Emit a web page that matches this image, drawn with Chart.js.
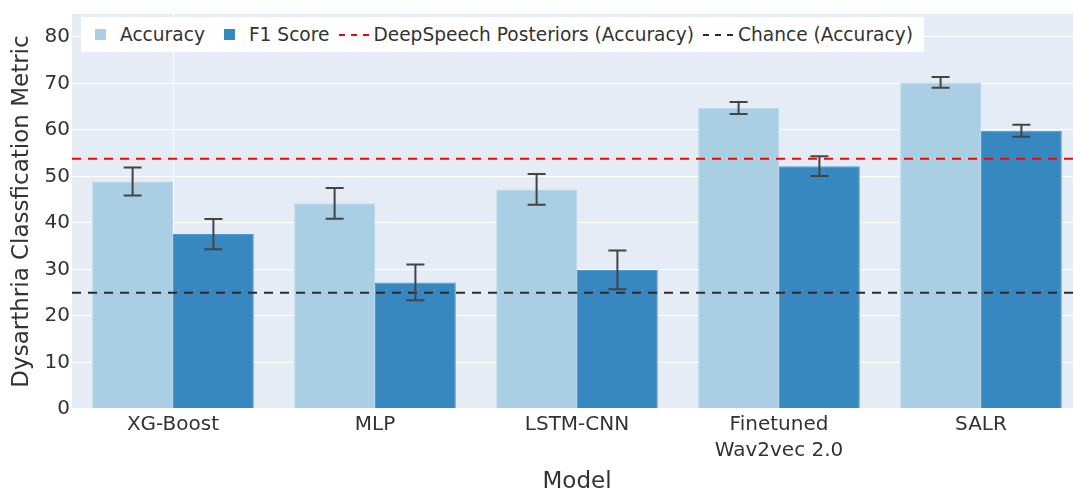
<!DOCTYPE html>
<html>
<head>
<meta charset="utf-8">
<script src="https://cdn.jsdelivr.net/npm/chart.js@4.4.1/dist/chart.umd.min.js"></script>
<style>
  html, body { margin: 0; padding: 0; background: #fff; overflow: hidden; }
  #wrap { position: relative; width: 1084px; height: 496px; }
  #legend {
    position: absolute; left: 81px; top: 17px; height: 35px;
    display: inline-flex; align-items: center; padding-right: 6px;
    background: #fff; font: 18.6px "DejaVu Sans"; color: #333; white-space: nowrap;
  }
  .item { display: flex; align-items: center; margin-right: 5px; }
  .sym { width: 39px; height: 20px; display: flex; align-items: center; justify-content: center; }
  .box { width: 11px; height: 11px; }
  .dash { width: 30px; height: 2px; }
</style>
</head>
<body>
<div id="wrap">
  <canvas id="chart"></canvas>
  <div id="legend"></div>
</div>
<script>
// data
const models = ['XG-Boost', 'MLP', 'LSTM-CNN', ['Finetuned', 'Wav2vec 2.0'], 'SALR'];
const accuracy = [48.9, 44.2, 47.2, 64.7, 70.2];
const accuracyErr = [3.0, 3.3, 3.3, 1.3, 1.15];
const f1Score = [37.6, 27.2, 29.9, 52.2, 59.8];
const f1Err = [3.25, 3.85, 4.15, 2.1, 1.3];
const refLabels = ['DeepSpeech Posteriors (Accuracy)', 'Chance (Accuracy)'];
const refValues = [53.8, 25.0];
const yTicks = [0, 10, 20, 30, 40, 50, 60, 70, 80];

const font = 'DejaVu Sans';
const textColor = '#333';
const accColor = 'rgb(170,206,228)';
const f1Color = 'rgb(55,135,192)';
const refColors = ['rgb(255,0,0)', '#2b2b2b'];

const plotBg = {
  id: 'plotBg',
  beforeDraw(chart) {
    const {ctx, chartArea: a} = chart;
    ctx.save();
    ctx.fillStyle = '#e5ecf6';
    ctx.fillRect(a.left, a.top, a.right - a.left, a.bottom - a.top);
    ctx.restore();
  }
};

// horizontal dashed reference lines, then the error bars on top
const overlays = {
  id: 'overlays',
  afterDatasetsDraw(chart) {
    const {ctx, chartArea: a} = chart;
    const y = chart.scales.y;
    ctx.save();
    ctx.beginPath();
    ctx.rect(a.left, a.top, a.right - a.left, a.bottom - a.top);
    ctx.clip();
    ctx.lineWidth = 2;
    ctx.setLineDash([9, 7]);
    refValues.forEach((v, i) => {
      const py = y.getPixelForValue(v);
      ctx.strokeStyle = refColors[i];
      ctx.beginPath();
      ctx.moveTo(a.left, py);
      ctx.lineTo(a.right, py);
      ctx.stroke();
    });
    ctx.setLineDash([]);
    ctx.strokeStyle = '#444';
    chart.data.datasets.forEach((ds, i) => {
      if (!ds.errors) return;
      chart.getDatasetMeta(i).data.forEach((bar, j) => {
        const top = y.getPixelForValue(ds.data[j] + ds.errors[j]);
        const bot = y.getPixelForValue(ds.data[j] - ds.errors[j]);
        ctx.beginPath();
        ctx.moveTo(bar.x, top); ctx.lineTo(bar.x, bot);
        ctx.moveTo(bar.x - 9, top); ctx.lineTo(bar.x + 9, top);
        ctx.moveTo(bar.x - 9, bot); ctx.lineTo(bar.x + 9, bot);
        ctx.stroke();
      });
    });
    ctx.restore();
  }
};

const chart = new Chart(document.getElementById('chart'), {
  type: 'bar',
  data: {
    labels: models,
    datasets: [
      {
        label: 'Accuracy', data: accuracy, errors: accuracyErr,
        backgroundColor: accColor, borderColor: 'rgb(186,216,234)', borderWidth: 1,
        categoryPercentage: 0.8, barPercentage: 1.0
      },
      {
        label: 'F1 Score', data: f1Score, errors: f1Err,
        backgroundColor: f1Color, borderColor: 'rgb(80,152,204)', borderWidth: 1,
        categoryPercentage: 0.8, barPercentage: 1.0
      }
    ]
  },
  options: {
    responsive: true,
    maintainAspectRatio: false,
    animation: false,
    layout: { padding: { left: 0, right: 2, top: 12, bottom: 0 } },
    plugins: { legend: { display: false }, tooltip: { enabled: false } },
    scales: {
      x: {
        grid: {
          offset: false, drawTicks: false, lineWidth: 1,
          color: c => c.index === 0 ? '#fff' : 'rgba(0,0,0,0)'
        },
        border: { display: false },
        ticks: { font: { family: font, size: 20, lineHeight: 1.3 }, color: textColor, padding: 3, maxRotation: 0, autoSkip: false },
        title: { display: true, text: 'Model', font: { family: font, size: 23 }, color: textColor, padding: { top: 0, bottom: 0 } },
        afterFit: s => { s.height = 87; }
      },
      y: {
        min: 0, max: 84.9,
        afterBuildTicks: s => { s.ticks = yTicks.map(v => ({ value: v })); },
        ticks: { font: { family: font, size: 20 }, color: textColor, padding: 2 },
        grid: { color: '#fff', drawTicks: false, lineWidth: c => c.tick && c.tick.value === 0 ? 2 : 1 },
        border: { display: false },
        title: { display: true, text: 'Dysarthria Classfication Metric', font: { family: font, size: 23 }, color: textColor, padding: { top: 8, bottom: 0 } },
        afterFit: s => { s.width = 72; }
      }
    }
  },
  plugins: [plotBg, overlays]
});

// html legend built from the chart's datasets and the reference lines
const legendEl = document.getElementById('legend');
const legendItems = chart.data.datasets.map(ds => ({ label: ds.label, color: ds.backgroundColor, line: false }))
  .concat(refLabels.map((l, i) => ({ label: l, color: refColors[i], line: true })));
legendItems.forEach(it => {
  const item = document.createElement('div');
  item.className = 'item';
  const sym = document.createElement('span');
  sym.className = 'sym';
  const mark = document.createElement('span');
  if (it.line) {
    mark.className = 'dash';
    mark.style.background = `repeating-linear-gradient(90deg, ${it.color} 0 6px, transparent 6px 12px)`;
  } else {
    mark.className = 'box';
    mark.style.background = it.color;
  }
  sym.appendChild(mark);
  const txt = document.createElement('span');
  txt.textContent = it.label;
  item.appendChild(sym);
  item.appendChild(txt);
  legendEl.appendChild(item);
});
</script>
</body>
</html>
